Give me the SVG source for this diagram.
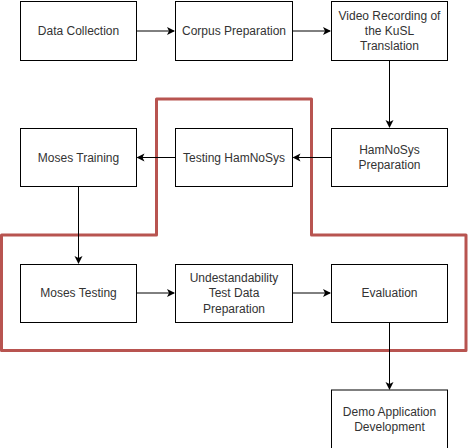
<svg xmlns="http://www.w3.org/2000/svg" width="468" height="448" viewBox="0 0 468 448">
<defs>
<style>
.box{fill:#fff;stroke:#000;stroke-width:1}
.lbl{font-family:"Liberation Sans",Arial,sans-serif;font-size:12px;fill:#333;text-anchor:middle;dominant-baseline:central}
.edge{fill:none;stroke:#000;stroke-width:1}
</style>
<marker id="arr" markerWidth="10" markerHeight="10" refX="7" refY="4" orient="auto" markerUnits="userSpaceOnUse">
<path d="M0,0 L8,4 L0,8 L2,4 Z" fill="#000"/>
</marker>
</defs>
<rect width="468" height="448" fill="#fff"/>
<path d="M156.5,235 V99 H311.5 V235 H466 V350.5 H1.5 V235 Z" fill="none" stroke="#b85450" stroke-width="3" stroke-linejoin="round"/>
<g id="connectors">
<path class="edge" d="M136.5,31 H174" marker-end="url(#arr)"/>
<path class="edge" d="M292.5,31 H330" marker-end="url(#arr)"/>
<path class="edge" d="M389.5,60.5 V127" marker-end="url(#arr)"/>
<path class="edge" d="M331.5,157.5 H293.5" marker-end="url(#arr)"/>
<path class="edge" d="M175.5,157.5 H137.5" marker-end="url(#arr)"/>
<path class="edge" d="M78.5,186.5 V263" marker-end="url(#arr)"/>
<path class="edge" d="M136.5,293 H174" marker-end="url(#arr)"/>
<path class="edge" d="M292.5,293 H330" marker-end="url(#arr)"/>
<path class="edge" d="M389.5,322 V389" marker-end="url(#arr)"/>
</g>
<g id="data-collection"><rect class="box" x="20.5" y="1.5" width="116" height="59"/><text class="lbl" x="78.5" y="31">Data Collection</text></g>
<g id="corpus-preparation"><rect class="box" x="175.5" y="1.5" width="117" height="59"/><text class="lbl" x="234" y="31">Corpus Preparation</text></g>
<g id="video-recording"><rect class="box" x="331.5" y="1.5" width="116" height="59"/><text class="lbl" x="389.5" y="15.5">Video Recording of</text><text class="lbl" x="389.5" y="30.5">the KuSL</text><text class="lbl" x="389.5" y="45.5">Translation</text></g>
<g id="moses-training"><rect class="box" x="20.5" y="128.5" width="116" height="58"/><text class="lbl" x="78.5" y="157.5">Moses Training</text></g>
<g id="testing-hamnosys"><rect class="box" x="175.5" y="128.5" width="117" height="58"/><text class="lbl" x="234" y="157.5">Testing HamNoSys</text></g>
<g id="hamnosys-preparation"><rect class="box" x="331.5" y="128.5" width="116" height="58"/><text class="lbl" x="389.5" y="149.5">HamNoSys</text><text class="lbl" x="389.5" y="165">Preparation</text></g>
<g id="moses-testing"><rect class="box" x="20.5" y="264.5" width="116" height="58"/><text class="lbl" x="78.5" y="293">Moses Testing</text></g>
<g id="test-data-preparation"><rect class="box" x="175.5" y="264.5" width="117" height="58"/><text class="lbl" x="234" y="277.5">Undestandability</text><text class="lbl" x="234" y="293">Test Data</text><text class="lbl" x="234" y="308.5">Preparation</text></g>
<g id="evaluation"><rect class="box" x="331.5" y="264.5" width="116" height="58"/><text class="lbl" x="389.5" y="293">Evaluation</text></g>
<g id="demo-application"><rect class="box" x="331.5" y="390" width="116" height="59"/><text class="lbl" x="389.5" y="411.5">Demo Application</text><text class="lbl" x="389.5" y="427">Development</text></g>
</svg>
